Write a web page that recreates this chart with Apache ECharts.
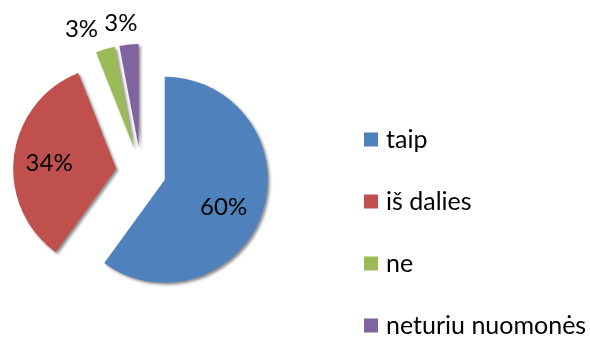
<!DOCTYPE html>
<html>
<head>
<meta charset="utf-8">
<script src="https://cdn.jsdelivr.net/npm/echarts@6/dist/echarts.min.js"></script>
<style>
  html, body { margin: 0; padding: 0; background: #fff; }
  #chart { width: 590px; height: 338px; }
</style>
</head>
<body>
<div id="chart"></div>
<script>
// atsakymai (procentais)
const categories = ['taip', 'iš dalies', 'ne', 'neturiu nuomonės'];
const values = [60, 34, 3, 3];
const colors = ['#4F81BD', '#C0504D', '#9BBB59', '#8064A2'];
// didieji - etiketė viduje, mažieji - virš skritulio
const labelPos = ['inside', 'inside', 'outside', 'outside'];
const labelShift = [[7, 11], [-13, 1], [5, 5], [16, 5]];

const chart = echarts.init(document.getElementById('chart'));

const data = categories.map((name, i) => ({
  name: name,
  value: values[i],
  selected: true,
  itemStyle: { color: colors[i] },
  label: { position: labelPos[i] },
  labelLine: { show: false, length: 26, length2: 0 }
}));

const option = {
  animation: false,
  textStyle: { fontFamily: 'Lato, "Open Sans", sans-serif' },
  legend: {
    orient: 'vertical',
    left: 364,
    top: 127,
    height: 260,
    padding: 0,
    itemWidth: 14,
    itemHeight: 14,
    itemGap: 37,
    icon: 'rect',
    selectedMode: false,
    textStyle: { fontSize: 25, lineHeight: 24, color: '#000', padding: [0, 0, 0, 3] },
    data: categories
  },
  series: [
    {
      type: 'pie',
      center: [141, 172],
      radius: 103,
      startAngle: 90,
      clockwise: true,
      selectedMode: 'multiple',
      selectedOffset: 25,
      avoidLabelOverlap: false,
      emphasis: { disabled: true },
      labelLayout: (p) => ({
        dx: labelShift[p.dataIndex][0],
        dy: labelShift[p.dataIndex][1],
        hideOverlap: false
      }),
      itemStyle: {
        borderWidth: 0,
        shadowBlur: 3,
        shadowOffsetX: 2,
        shadowOffsetY: 2,
        shadowColor: 'rgba(0,0,0,0.45)'
      },
      label: {
        formatter: '{c}%',
        fontSize: 24,
        color: '#000'
      },
      data: data
    }
  ]
};

chart.setOption(option);
</script>
</body>
</html>
